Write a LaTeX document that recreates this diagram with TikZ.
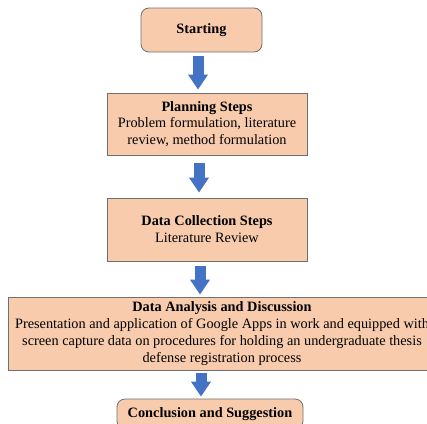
\documentclass[tikz,border=0pt]{standalone}
\usepackage{fontspec}
\setmainfont{Liberation Serif}
\usetikzlibrary{arrows.meta,calc}
\definecolor{peach}{HTML}{F8CBAD}
\definecolor{boxline}{HTML}{6F6F6F}
\definecolor{arrowblue}{HTML}{4472C4}
\begin{document}
\begin{tikzpicture}[x=1pt,y=-1pt,
  box/.style={draw=boxline, line width=0.8pt, fill=peach, inner sep=0pt, align=center,
    font=\fontsize{14.3}{16.8}\selectfont},
  rbox/.style={box, rounded corners=8pt},
  flow/.style={arrowblue, line width=11pt, -{Triangle[width=19pt,length=15pt]}}]
\useasboundingbox (0,0) rectangle (427,423);
\clip (0,0) rectangle (427,423);
\node[rbox, minimum width=121pt, minimum height=44pt] (start) at (201.5,30) {\textbf{Starting}};
\node[box, minimum width=200pt, minimum height=62pt] (plan) at (207,124)
  {\textbf{Planning Steps}\\Problem formulation, literature\\review, method formulation};
\node[box, minimum width=200pt, minimum height=63pt] (collect) at (207,229.5)
  {\textbf{Data Collection Steps}\\Literature Review};
\node[box, minimum width=428pt, minimum height=73pt] (analysis) at (222,333.5)
  {\textbf{Data Analysis and Discussion}\\Presentation and application of Google Apps in work and equipped with\\screen capture data on procedures for holding an undergraduate thesis\\defense registration process};
\node[rbox, minimum width=186pt, minimum height=30pt] (concl) at (210,414)
  {\textbf{Conclusion and Suggestion}};
\coordinate (c1) at (198,0);
\coordinate (c2) at (199,0);
\coordinate (c3) at (200,0);
\coordinate (c4) at (201,0);
\draw[flow, shorten <=4pt, shorten >=3pt] (start.south -| c1) -- (plan.north -| c1);
\draw[flow, shorten <=8pt, shorten >=5pt] (plan.south -| c2) -- (collect.north -| c2);
\draw[flow, shorten <=5pt, shorten >=2pt] (collect.south -| c3) -- (analysis.north -| c3);
\draw[flow, shorten <=3pt, shorten >=2pt] (analysis.south -| c4) -- (concl.north -| c4);
\end{tikzpicture}
\end{document}
